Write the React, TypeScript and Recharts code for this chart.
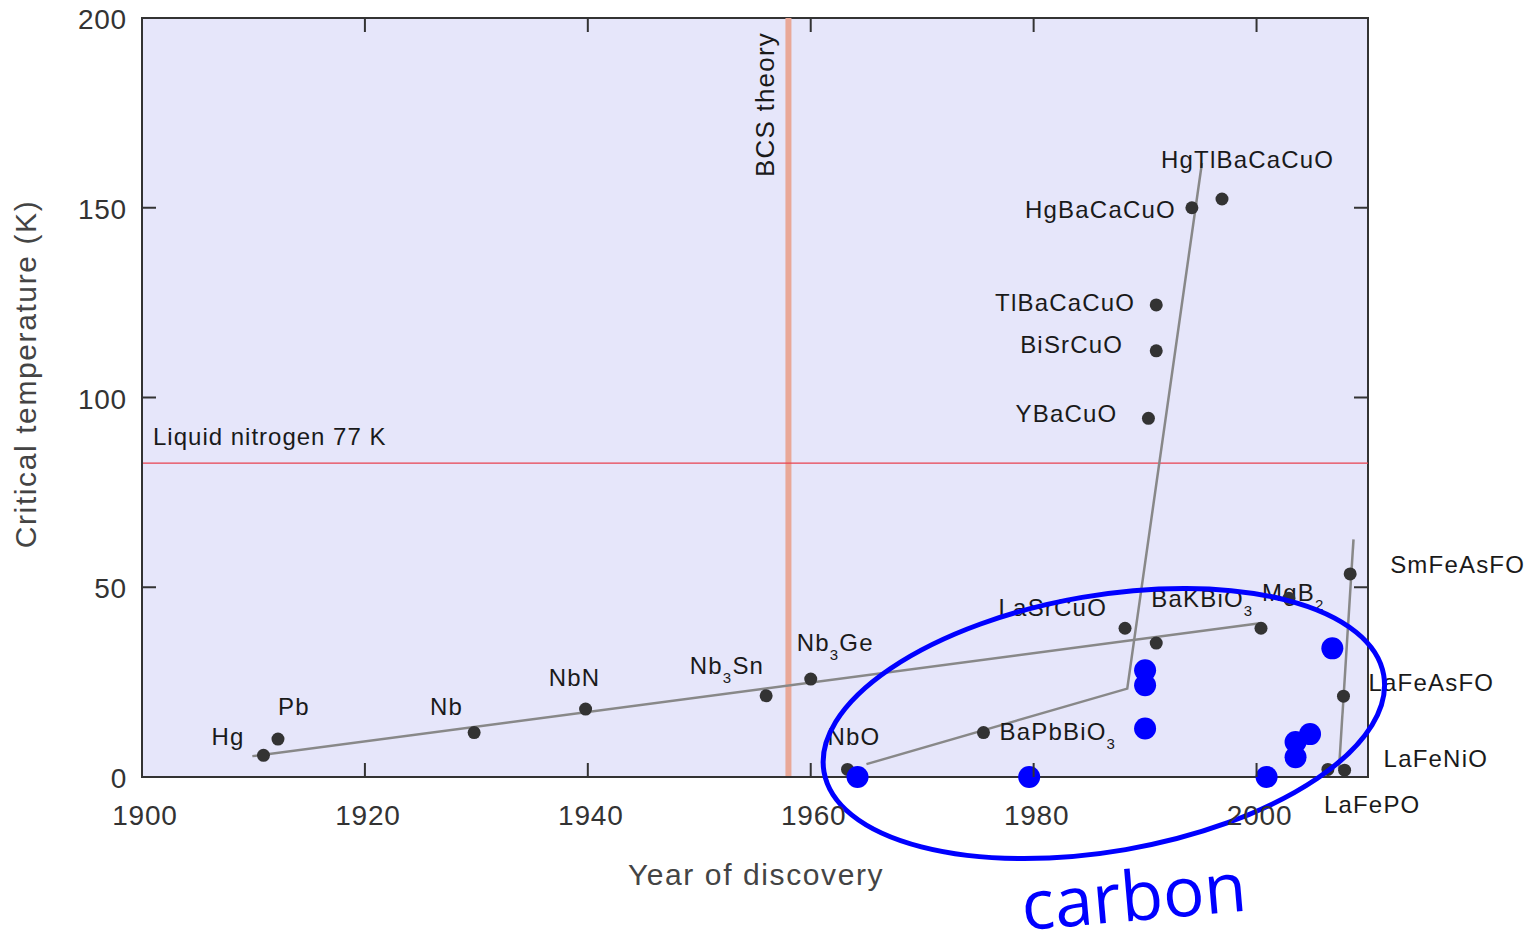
import React from 'react';
import {
  ComposedChart,
  Scatter,
  XAxis,
  YAxis,
  ReferenceArea,
  ReferenceLine,
  ReferenceDot,
} from 'recharts';

// axes
const YEAR_TICKS = [1900, 1920, 1940, 1960, 1980, 2000];
const TC_TICKS = [0, 50, 100, 150, 200];

// materials (black dots), '' = unlabeled
const MATERIALS = [
  'Hg', 'Pb', 'Nb', 'NbN', 'Nb_3Sn', 'Nb_3Ge', 'NbO', 'BaPbBiO_3', 'LaSrCuO',
  'BaKBiO_3', 'YBaCuO', 'BiSrCuO', 'TlBaCaCuO', 'HgBaCaCuO', 'HgTlBaCaCuO',
  'MgB_2', '', 'SmFeAsFO', 'LaFeAsFO', 'LaFeNiO', 'LaFePO',
];
const MATERIAL_YEARS = [
  1910.9, 1912.2, 1929.8, 1939.8, 1956.0, 1960.0, 1963.3, 1975.5, 1988.2,
  1991.0, 1990.3, 1991.0, 1991.0, 1994.2, 1996.9,
  2000.4, 2002.9, 2008.4, 2007.8, 2007.9, 2006.4,
];
const MATERIAL_TC = [
  5.7, 10.0, 11.7, 17.9, 21.4, 25.8, 2.0, 11.7, 39.2,
  35.3, 94.5, 112.3, 124.4, 150.0, 152.3,
  39.2, 47.1, 53.5, 21.3, 1.8, 2.0,
];

// carbon-based superconductors (blue dots)
const CARBON_YEARS = [1964.2, 1979.6, 1990.0, 1990.0, 1990.0, 2000.9, 2003.5, 2003.5, 2004.8, 2006.8];
const CARBON_TC = [0, 0, 28.1, 24.2, 12.8, 0, 9.2, 5.2, 11.3, 33.9];

// grey trend lines
const TREND_A_YEARS = [1909.9, 2000.3];
const TREND_A_TC = [5.5, 40.5];
const TREND_B_YEARS = [1965.0, 1988.4, 1995.1];
const TREND_B_TC = [3.4, 23.3, 161.8];
const TREND_C_YEARS = [2007.4, 2008.7];
const TREND_C_TC = [2.2, 62.6];

const BCS_YEAR = 1958;
const LN2_TC = 82.7;
const CARBON_CENTER = { year: 1986.3, tc: 14.1 };

// label placement relative to the dot: [dx, dy, anchor]
const LABEL_POS: Record<string, [number, number, 'start' | 'middle' | 'end']> = {
  Hg: [-19, -10, 'end'],
  Pb: [0, -24, 'start'],
  Nb: [-11, -18, 'end'],
  NbN: [-11, -23, 'middle'],
  Nb_3Sn: [-2, -22, 'end'],
  Nb_3Ge: [-14, -28, 'start'],
  NbO: [-20, -24, 'start'],
  BaPbBiO_3: [16, 7, 'start'],
  LaSrCuO: [-18, -12, 'end'],
  BaKBiO_3: [-5, -36, 'start'],
  YBaCuO: [-31, 4, 'end'],
  BiSrCuO: [-33, 2, 'end'],
  TlBaCaCuO: [-21, 6, 'end'],
  HgBaCaCuO: [-16, 10, 'end'],
  HgTlBaCaCuO: [-61, -31, 'start'],
  MgB_2: [1, -27, 'start'],
  SmFeAsFO: [40, -1, 'start'],
  LaFeAsFO: [25, -5, 'start'],
  LaFeNiO: [39, -3, 'start'],
  LaFePO: [-4, 44, 'start'],
};

const PLOT_W = 1226;
const PLOT_H = 759;
const FONT = '"Liberation Sans", Arial, sans-serif';

const zip = (xs: number[], ys: number[]) => xs.map((year, i) => ({ year, tc: ys[i] }));

const materialData = MATERIALS.map((name, i) => ({ name, year: MATERIAL_YEARS[i], tc: MATERIAL_TC[i] }));
const carbonData = zip(CARBON_YEARS, CARBON_TC);

function LabelText({ text, x, y, anchor }: { text: string; x: number; y: number; anchor: string }) {
  const parts = text.split(/_(\d)/);
  return (
    <text x={x} y={y} textAnchor={anchor} fontFamily={FONT} fontSize={24} letterSpacing={1.2} fill="#1a1a1a">
      {parts.map((p, i) =>
        i % 2 ? (
          <tspan key={i} fontSize={15} dy={9}>{p}</tspan>
        ) : (
          <tspan key={i} dy={i > 0 ? -9 : 0}>{p}</tspan>
        )
      )}
    </text>
  );
}

const MaterialDot = (props: any) => {
  const { cx, cy, payload } = props;
  const pos = LABEL_POS[payload.name];
  return (
    <g>
      <circle cx={cx} cy={cy} r={6.5} fill="#333" />
      {pos && <LabelText text={payload.name} x={cx + pos[0]} y={cy + pos[1]} anchor={pos[2]} />}
    </g>
  );
};

const CarbonDot = (props: any) => <circle cx={props.cx} cy={props.cy} r={11} fill="#0000ff" />;

const YearTick = (props: any) => {
  const { x, y, payload } = props;
  return (
    <g>
      <line x1={x} y1={y} x2={x} y2={y - 14} stroke="#333" strokeWidth={2} />
      <line x1={x} y1={y - PLOT_H} x2={x} y2={y - PLOT_H + 14} stroke="#333" strokeWidth={2} />
      <text x={x + 3} y={y + 48} textAnchor="middle" fontFamily={FONT} fontSize={28} letterSpacing={0.8} fill="#333">
        {payload.value}
      </text>
    </g>
  );
};

const TcTick = (props: any) => {
  const { x, y, payload } = props;
  return (
    <g>
      <line x1={x} y1={y} x2={x + 14} y2={y} stroke="#333" strokeWidth={2} />
      <line x1={x + PLOT_W} y1={y} x2={x + PLOT_W - 14} y2={y} stroke="#333" strokeWidth={2} />
      <text x={x - 15} y={y + 11} textAnchor="end" fontFamily={FONT} fontSize={28} letterSpacing={0.8} fill="#333">
        {payload.value}
      </text>
    </g>
  );
};

const CarbonRing = (props: any) => {
  const { cx, cy } = props;
  return (
    <g>
      <ellipse cx={cx} cy={cy} rx={284} ry={128} transform={`rotate(-9.8 ${cx} ${cy})`} fill="none" stroke="#0000ff" strokeWidth={5} />
      <text
        x={cx + 32}
        y={cy + 197}
        textAnchor="middle"
        transform={`rotate(-5 ${cx + 32} ${cy + 197})`}
        fontFamily='"Open Sans", sans-serif'
        fontSize={69}
        fill="#0000ff"
      >
        carbon
      </text>
    </g>
  );
};

const Ln2Label = () => (
  <text x={153} y={445} fontFamily={FONT} fontSize={24} letterSpacing={1} fill="#1a1a1a">
    Liquid nitrogen 77 K
  </text>
);

const BcsLabel = () => (
  <text x={774} y={32} textAnchor="end" transform="rotate(-90 774 32)" fontFamily={FONT} fontSize={26} letterSpacing={1.2} fill="#1a1a1a">
    BCS theory
  </text>
);

const noShape = () => <g />;

export default function App() {
  return (
    <div style={{ margin: -8 }}>
      <ComposedChart width={1537} height={942} margin={{ top: 18, right: 169, bottom: 65, left: 52 }}>
        <ReferenceArea x1={1900} x2={2010} y1={0} y2={200} fill="#e6e6fa" fillOpacity={1} stroke="#333" strokeWidth={2} />
        <XAxis
          dataKey="year"
          type="number"
          domain={[1900, 2010]}
          ticks={YEAR_TICKS}
          height={100}
          tickSize={0}
          tickMargin={0}
          tickLine={false}
          axisLine={{ stroke: '#333', strokeWidth: 2 }}
          tick={<YearTick />}
          interval={0}
        />
        <YAxis
          dataKey="tc"
          type="number"
          domain={[0, 200]}
          ticks={TC_TICKS}
          width={90}
          tickSize={0}
          tickMargin={0}
          tickLine={false}
          axisLine={{ stroke: '#333', strokeWidth: 2 }}
          tick={<TcTick />}
          interval={0}
        />
        <ReferenceLine x={BCS_YEAR} stroke="#e9a898" strokeWidth={6} label={{ content: BcsLabel }} />
        <ReferenceLine y={LN2_TC} stroke="#e8404f" strokeWidth={1.2} label={{ content: Ln2Label }} />
        <Scatter data={zip(TREND_A_YEARS, TREND_A_TC)} line={{ stroke: '#888', strokeWidth: 2.5 }} shape={noShape} isAnimationActive={false} />
        <Scatter data={zip(TREND_B_YEARS, TREND_B_TC)} line={{ stroke: '#888', strokeWidth: 2.5 }} shape={noShape} isAnimationActive={false} />
        <Scatter data={zip(TREND_C_YEARS, TREND_C_TC)} line={{ stroke: '#888', strokeWidth: 2.5 }} shape={noShape} isAnimationActive={false} />
        <Scatter data={materialData} shape={<MaterialDot />} isAnimationActive={false} />
        <Scatter data={carbonData} shape={<CarbonDot />} isAnimationActive={false} />
        <ReferenceDot x={CARBON_CENTER.year} y={CARBON_CENTER.tc} r={0} shape={<CarbonRing />} />
        <text x={756} y={885} textAnchor="middle" fontFamily={FONT} fontSize={30} letterSpacing={1.6} fill="#444">
          Year of discovery
        </text>
        <text x={36} y={374} textAnchor="middle" transform="rotate(-90 36 374)" fontFamily={FONT} fontSize={30} letterSpacing={1.6} fill="#444">
          Critical temperature (K)
        </text>
      </ComposedChart>
    </div>
  );
}
